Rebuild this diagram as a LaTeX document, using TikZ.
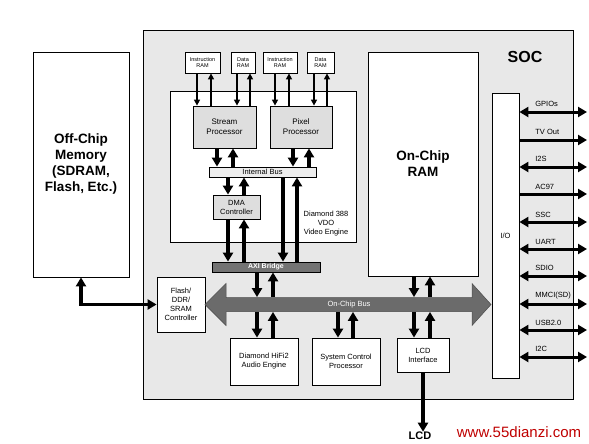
\documentclass[tikz,border=0pt]{standalone}
\usepackage{fontspec}
\setmainfont{Liberation Sans}
\usetikzlibrary{arrows.meta}
\begin{document}
\begin{tikzpicture}[x=1pt, y=-1pt, line width=0.8pt,
	box/.style={draw, fill=white, inner sep=0pt, align=center},
	graybox/.style={box, fill=black!13},
	tinytext/.style={font=\fontsize{5.5}{6.5}\selectfont},
	smalltext/.style={font=\fontsize{7.5}{9}\selectfont},
	midtext/.style={font=\fontsize{8}{10}\selectfont},
	bigtext/.style={font=\fontsize{13.5}{16}\selectfont\bfseries},
	iotext/.style={font=\fontsize{7.5}{8}\selectfont, anchor=west, inner sep=0pt},
	thinarr/.style={-{Triangle[length=6pt,width=6pt]}, line width=2pt},
	thickarr/.style={-{Triangle[length=9pt,width=10pt]}, line width=3.2pt},
	thickboth/.style={{Triangle[length=9pt,width=10pt]}-{Triangle[length=9pt,width=10pt]}, line width=3.2pt},
	ioout/.style={-{Triangle[length=9pt,width=10pt]}, line width=3pt},
	ioboth/.style={{Triangle[length=9pt,width=10pt]}-{Triangle[length=9pt,width=10pt]}, line width=3pt}]
		\useasboundingbox (0,0) rectangle (589,444);
		\node[box, fill=black!9, minimum width=430pt, minimum height=369pt](soc) at (358,214.5){};
		\node[font=\fontsize{16}{16}\selectfont\bfseries](soclabel) at (525,57){SOC};
		\node[box, bigtext, minimum width=96pt, minimum height=225pt](offchip) at (81,164.5){Off-Chip\\Memory\\(SDRAM,\\Flash, Etc.)};
		\node[box, smalltext, minimum width=48pt, minimum height=55pt](ctrl) at (181,304.5){Flash/\\DDR/\\SRAM\\Controller};

		% video engine
		\node[box, minimum width=186pt, minimum height=151pt](video) at (263,166.5){};
		\node[smalltext, align=center](videolabel) at (326,223.5){Diamond 388\\VDO\\Video Engine};
		\node[box, tinytext, minimum width=35pt, minimum height=21pt](instrone) at (202.5,62.5){Instruction\\RAM};
		\node[box, tinytext, minimum width=24pt, minimum height=21pt](dataone) at (243,62.5){Data\\RAM};
		\node[box, tinytext, minimum width=34pt, minimum height=21pt](instrtwo) at (280,62.5){Instruction\\RAM};
		\node[box, tinytext, minimum width=27pt, minimum height=21pt](datatwo) at (320.5,62.5){Data\\RAM};
		\node[graybox, midtext, minimum width=63pt, minimum height=42pt](stream) at (224.5,127){Stream\\Processor};
		\node[graybox, midtext, minimum width=62pt, minimum height=42pt](pixel) at (301,127){Pixel\\Processor};
		\node[graybox, smalltext, fill=black!7, minimum width=107pt, minimum height=10pt](intbus) at (262.5,172){Internal Bus};
		\node[graybox, smalltext, minimum width=47pt, minimum height=24pt](dma) at (236.5,207){DMA\\Controller};
		\node[box, fill=black!55, text=white, font=\fontsize{7}{8}\selectfont\bfseries, minimum width=108pt, minimum height=10pt](axi) at (266,267){AXI Bridge};

		\node[box, bigtext, minimum width=110pt, minimum height=224pt](ram) at (423,164){On-Chip\\RAM};
		\node[box, smalltext, minimum width=27pt, minimum height=285pt](io) at (505.5,235.5){I/O};

		% on-chip bus
		\fill[black!58, draw=black!70, line width=0.5pt] (205,304.5) -- (226,283.5) -- (226,297.5) -- (472,297.5) -- (472,283.5) -- (491,304.5) -- (472,325.5) -- (472,311.5) -- (226,311.5) -- (226,325.5) -- cycle;
		\node[smalltext, text=white, inner sep=0pt, minimum width=246pt, minimum height=14pt](bus) at (349,304.5){On-Chip Bus};

		\node[box, smalltext, minimum width=68pt, minimum height=47pt](hifi) at (264,361.5){Diamond HiFi2\\Audio Engine};
		\node[box, smalltext, minimum width=68pt, minimum height=47pt](sysctl) at (346,361.5){System Control\\Processor};
		\node[box, smalltext, minimum width=52pt, minimum height=34pt](lcd) at (423,355){LCD\\Interface};
		\node[font=\fontsize{11}{11}\selectfont\bfseries, inner sep=0pt](lcdlabel) at (420,436){LCD};
		\node[text=red!75!black, font=\fontsize{15}{15}\selectfont, inner sep=0pt](watermark) at (519,432){www.55dianzi.com};

		% RAMs to processors
		\draw [thinarr] ([xshift=-5.5]instrone.south) -- ([xshift=-5.5]instrone.south |- stream.north);
		\draw [thinarr] ([xshift=8.5]instrone.south |- stream.north) -- ([xshift=8.5]instrone.south);
		\draw [thinarr] ([xshift=-6]dataone.south) -- ([xshift=-6]dataone.south |- stream.north);
		\draw [thinarr] ([xshift=7]dataone.south |- stream.north) -- ([xshift=7]dataone.south);
		\draw [thinarr] ([xshift=-5]instrtwo.south) -- ([xshift=-5]instrtwo.south |- pixel.north);
		\draw [thinarr] ([xshift=9]instrtwo.south |- pixel.north) -- ([xshift=9]instrtwo.south);
		\draw [thinarr] ([xshift=-6.5]datatwo.south) -- ([xshift=-6.5]datatwo.south |- pixel.north);
		\draw [thinarr] ([xshift=6.5]datatwo.south |- pixel.north) -- ([xshift=6.5]datatwo.south);

		% processors, internal bus, dma, axi bridge
		\draw [thickarr] ([xshift=-7.5]stream.south) -- ([xshift=-7.5]stream.south |- intbus.north);
		\draw [thickarr] ([xshift=8.5]stream.south |- intbus.north) -- ([xshift=8.5]stream.south);
		\draw [thickarr] ([xshift=-8]pixel.south) -- ([xshift=-8]pixel.south |- intbus.north);
		\draw [thickarr] ([xshift=8]pixel.south |- intbus.north) -- ([xshift=8]pixel.south);
		\draw [thickarr] ([xshift=-8.5]dma.north |- intbus.south) -- ([xshift=-8.5]dma.north);
		\draw [thickarr] ([xshift=7.5]dma.north) -- ([xshift=7.5]dma.north |- intbus.south);
		\draw [thickarr] ([xshift=-8.5]dma.south) -- ([xshift=-8.5]dma.south |- axi.north);
		\draw [thickarr] ([xshift=7.5]dma.south |- axi.north) -- ([xshift=7.5]dma.south);
		\draw [thickarr] ([xshift=20.5]intbus.south) -- ([xshift=20.5]intbus.south |- axi.north);
		\draw [thickarr] ([xshift=34.5]intbus.south |- axi.north) -- ([xshift=34.5]intbus.south);

		% on-chip bus connections
		\draw [thickarr] ([xshift=-9]axi.south) -- ([xshift=-9]axi.south |- bus.north);
		\draw [thickarr] ([xshift=7]axi.south |- bus.north) -- ([xshift=7]axi.south);
		\draw [thickarr] ([xshift=-9]ram.south) -- ([xshift=-9]ram.south |- bus.north);
		\draw [thickarr] ([xshift=7]ram.south |- bus.north) -- ([xshift=7]ram.south);
		\draw [thickarr] ([xshift=-7]hifi.north |- bus.south) -- ([xshift=-7]hifi.north);
		\draw [thickarr] ([xshift=9]hifi.north) -- ([xshift=9]hifi.north |- bus.south);
		\draw [thickarr] ([xshift=-8]sysctl.north |- bus.south) -- ([xshift=-8]sysctl.north);
		\draw [thickarr] ([xshift=7]sysctl.north) -- ([xshift=7]sysctl.north |- bus.south);
		\draw [thickarr] ([xshift=-9]lcd.north |- bus.south) -- ([xshift=-9]lcd.north);
		\draw [thickarr] ([xshift=7]lcd.north) -- ([xshift=7]lcd.north |- bus.south);
		\draw [thickarr] (lcd.south) -- (lcd.south |- lcdlabel.north);
		\draw [thickboth] (offchip.south) |- (ctrl.west);

		% i/o ports
		\node[iotext](gpio) at (535,104){GPIOs};
		\node[iotext](tvout) at (535,132){TV Out};
		\node[iotext](iis) at (535,159){I2S};
		\node[iotext](ac) at (535,187){AC97};
		\node[iotext](ssc) at (535,215){SSC};
		\node[iotext](uart) at (535,242){UART};
		\node[iotext](sdio) at (535,268){SDIO};
		\node[iotext](mmci) at (535,296){MMCI(SD)};
		\node[iotext](usb) at (535,323){USB2.0};
		\node[iotext](iic) at (535,349){I2C};
		\coordinate (gpioend) at (587,112);
		\coordinate (tvoutend) at (587,140);
		\coordinate (iisend) at (587,167);
		\coordinate (acend) at (587,194);
		\coordinate (sscend) at (587,222);
		\coordinate (uartend) at (587,249);
		\coordinate (sdioend) at (587,276);
		\coordinate (mmciend) at (587,304);
		\coordinate (usbend) at (587,330);
		\coordinate (iicend) at (587,357);
		\draw [ioboth] (io.east |- gpioend) -- (gpioend);
		\draw [ioout] (io.east |- tvoutend) -- (tvoutend);
		\draw [ioboth] (io.east |- iisend) -- (iisend);
		\draw [ioout] (io.east |- acend) -- (acend);
		\draw [ioboth] (io.east |- sscend) -- (sscend);
		\draw [ioboth] (io.east |- uartend) -- (uartend);
		\draw [ioboth] (io.east |- sdioend) -- (sdioend);
		\draw [ioboth] (io.east |- mmciend) -- (mmciend);
		\draw [ioboth] (io.east |- usbend) -- (usbend);
		\draw [ioboth] (io.east |- iicend) -- (iicend);
	\end{tikzpicture}
\end{document}
